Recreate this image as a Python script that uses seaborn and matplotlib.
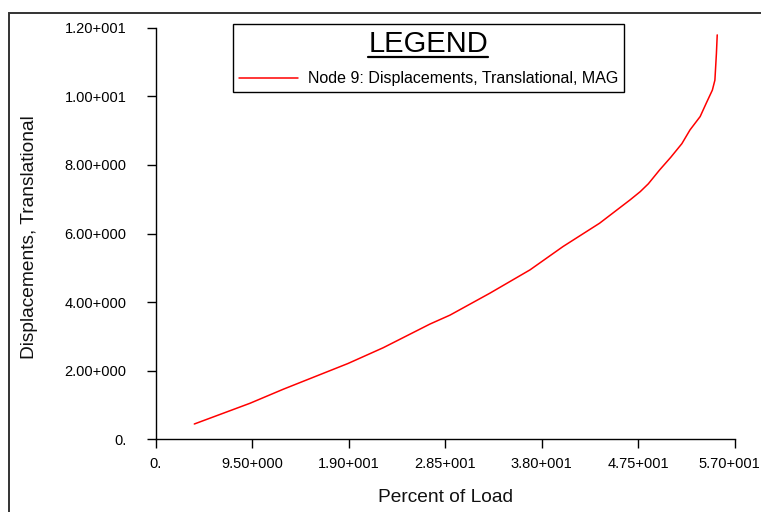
import matplotlib
matplotlib.use("Agg")
import matplotlib.pyplot as plt
from matplotlib.patches import Rectangle
from matplotlib.lines import Line2D
import matplotlib.transforms as mtransforms
import seaborn as sns
import pandas as pd

# Load-displacement history for node 9
percent_load = [3.80, 9.28, 12.56, 18.93, 22.4, 27.0, 28.97, 32.9, 36.85, 40.1,
                43.7, 46.7, 47.7, 48.5, 49.6, 50.7, 51.8, 52.6, 53.6, 54.2, 54.8,
                55.05, 55.2, 55.28]
displacement = [0.446, 1.05, 1.46, 2.21, 2.67, 3.36, 3.62, 4.26, 4.94, 5.62,
                6.30, 6.98, 7.22, 7.45, 7.85, 8.22, 8.62, 9.02, 9.41, 9.80, 10.18,
                10.47, 11.25, 11.79]
series_label = "Node 9: Displacements, Translational, MAG"

x_ticks = [0, 9.5, 19, 28.5, 38, 47.5, 57]
x_tick_labels = ["0.", "9.50+000", "1.90+001", "2.85+001", "3.80+001", "4.75+001", "5.70+001"]
y_ticks = [0, 2, 4, 6, 8, 10, 12]
y_tick_labels = ["0.", "2.00+000", "4.00+000", "6.00+000", "8.00+000", "1.00+001", "1.20+001"]

df = pd.DataFrame({"Percent of Load": percent_load,
                   "Displacement": displacement,
                   "series": series_label})

sns.set_theme(style="ticks")
plt.rcParams["font.family"] = ["Liberation Sans", "DejaVu Sans"]
plt.rcParams["text.color"] = "black"
plt.rcParams["axes.labelcolor"] = "black"

W, H = 761, 512
fig = plt.figure(figsize=(W / 100, H / 100), dpi=100)
fig.patch.set_facecolor("white")
ax = fig.add_axes([155.7 / W, 1 - 439.3 / H, (734.7 - 155.7) / W, (439.3 - 27.7) / H])
ax.set_facecolor("white")

sns.lineplot(data=df, x="Percent of Load", y="Displacement", hue="series",
             palette=["#ff0000"], estimator=None, sort=False, linewidth=1.1,
             ax=ax, legend=False)

ax.set_xlim(0, 57)
ax.set_ylim(0, 12)
ax.set_xticks(x_ticks)
ax.set_xticklabels(x_tick_labels)
ax.set_yticks(y_ticks)
ax.set_yticklabels(y_tick_labels)
for s in ("top", "right"):
    ax.spines[s].set_visible(False)
for s in ("left", "bottom"):
    ax.spines[s].set_color("black")
    ax.spines[s].set_linewidth(1.0)
ax.tick_params(axis="both", direction="out", length=6.5, width=1.0, color="black",
               labelsize=10.5, labelcolor="black")
ax.tick_params(axis="y", pad=14.4)
ax.tick_params(axis="x", pad=6.5)

# keep the last x tick label inside the canvas
last = ax.get_xticklabels()[-1]
last.set_transform(last.get_transform() +
                   mtransforms.ScaledTranslation(-5 / 100, 0, fig.dpi_scale_trans))

ax.set_xlabel("Percent of Load", fontsize=13.8, color="#111111")
ax.set_ylabel("Displacements, Translational", fontsize=13.8, color="#111111")
ax.xaxis.set_label_coords(0.5, -0.12)
ax.yaxis.set_label_coords(-0.2033, 0.49)

# Legend box with underlined title
handle = Line2D([], [], color="#ff0000", linewidth=1.1)
leg = ax.legend([handle], [series_label], loc="upper left",
                bbox_to_anchor=(233 / W, 1 - 24 / H), bbox_transform=fig.transFigure,
                borderaxespad=0, frameon=True, fancybox=False, fontsize=11.5,
                handlelength=3.7, handletextpad=0.62, borderpad=0.35,
                labelspacing=0.85,
                title="LEGEND",
                title_fontproperties={"family": ["Liberation Sans"],
                                      "size": 21})
leg.get_title().set_color("black")
for t in leg.get_texts():
    t.set_color("black")
leg.get_frame().set_edgecolor("black")
leg.get_frame().set_linewidth(1.0)
leg.get_frame().set_facecolor("white")
leg.get_frame().set_alpha(1)

fig.canvas.draw()
tb = leg.get_title().get_window_extent().transformed(fig.transFigure.inverted())
fig.add_artist(Line2D([tb.x0, tb.x1], [tb.y0 + 0.001, tb.y0 + 0.001],
                      transform=fig.transFigure, color="black", linewidth=1.6))

# Outer window frame
fig.add_artist(Rectangle((9 / W, -0.2), 1.5, 1 - 12.7 / H + 0.2,
                         transform=fig.transFigure, fill=False,
                         edgecolor="#333333", linewidth=1.4))

fig.savefig("out.png", dpi=100, facecolor="white")
